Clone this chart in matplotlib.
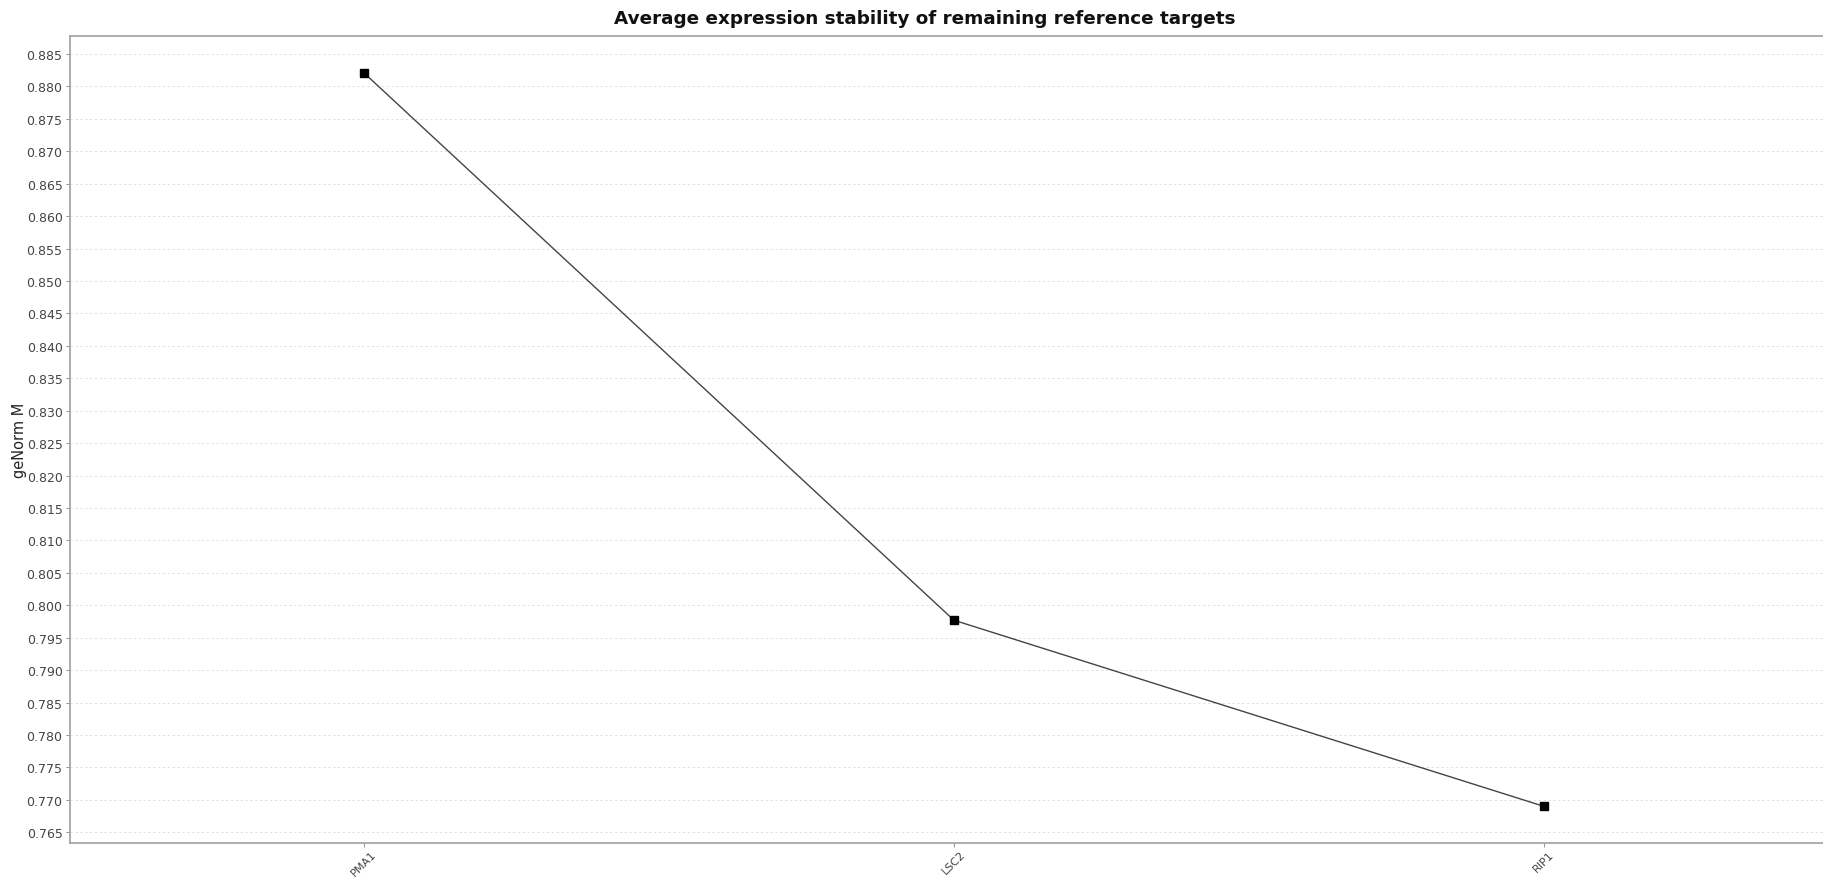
import matplotlib
matplotlib.use("Agg")
import matplotlib.pyplot as plt
import numpy as np

genes = ["PMA1", "LSC2", "RIP1"]
m_values = [0.8821, 0.7977, 0.7690]
yticks = [round(0.765 + 0.005 * i, 3) for i in range(25)]

W, H = 1823, 878
fig = plt.figure(figsize=(W / 100, H / 100), dpi=100)
ax_left, ax_right = 69.5 / W, 1.0
ax_bottom, ax_top = 1 - 844 / H, 1 - 37 / H
ax = fig.add_axes([ax_left, ax_bottom, ax_right - ax_left, ax_top - ax_bottom])

x = np.arange(len(genes))
ax.plot(x, m_values, color="#444444", linewidth=1.0, marker="s",
        markersize=5.5, markerfacecolor="black", markeredgecolor="black")

ax.set_xlim(-0.499, 2.473)
ax.set_ylim(0.76335, 0.88778)
ax.set_yticks(yticks)
ax.set_yticklabels([f"{v:.3f}" for v in yticks])
ax.set_xticks(x)
ax.set_xticklabels(genes, rotation=45, ha="center", va="top", fontsize=8)

ax.grid(axis="y", color="#e2e2e2", linestyle=(0, (2.5, 2.5)), linewidth=0.7)
ax.set_axisbelow(True)
for s in ["top", "bottom", "left"]:
    ax.spines[s].set_color("#a0a0a0")
    ax.spines[s].set_linewidth(1.2)
ax.spines["right"].set_visible(False)
ax.tick_params(axis="y", labelsize=9, colors="#444444", length=3, width=0.8, pad=2)
ax.tick_params(axis="y", color="#999999")
ax.tick_params(axis="x", colors="#444444", length=3, width=0.8, pad=1)
ax.tick_params(axis="x", color="#999999")

ax.set_ylabel("geNorm M", fontsize=10.5, color="#222222")
ax.yaxis.set_label_coords((27 - 69.5) / (W - 69.5), 0.5)

fig.text(925 / W, 1 - 19 / H, "Average expression stability of remaining reference targets",
         ha="center", va="center", fontsize=13.2, fontweight="bold", color="#111111")

fig.savefig("out.png", dpi=100)
